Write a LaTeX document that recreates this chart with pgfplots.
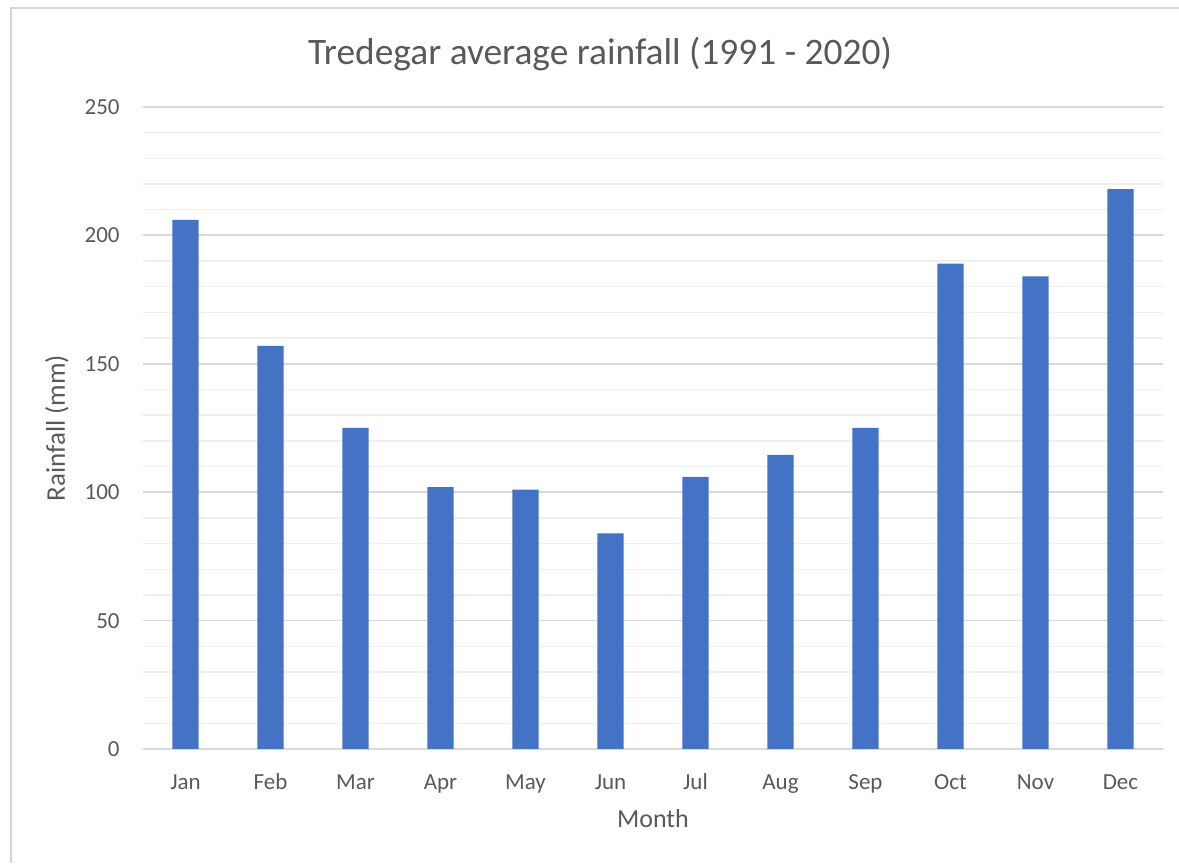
\documentclass[border=0pt]{standalone}
\usepackage{fontspec}
\setmainfont{Carlito}
\usepackage{pgfplots}
\pgfplotsset{compat=1.18}
\definecolor{barblue}{HTML}{4472C4}
\definecolor{txt}{HTML}{595959}
\definecolor{gridc}{HTML}{D9D9D9}
\definecolor{minorc}{HTML}{EFEFEF}
\definecolor{framec}{HTML}{D4D4D4}
\begin{document}
\begin{tikzpicture}
\path[use as bounding box] (0,0) rectangle (589.5pt,431.5pt);
\draw[color=framec, line width=1pt] (5.5pt,0pt) -- (5.5pt,427.5pt) -- (589.5pt,427.5pt);
\begin{axis}[
  at={(71.5pt,57pt)}, anchor=south west,
  scale only axis, width=510pt, height=321pt,
  xmin=-0.5, xmax=11.5, ymin=0, ymax=250,
  xtick={0,1,2,3,4,5,6,7,8,9,10,11},
  xticklabels={Jan,Feb,Mar,Apr,May,Jun,Jul,Aug,Sep,Oct,Nov,Dec},
  ytick={0,50,100,150,200,250},
  minor ytick={10,20,30,40,60,70,80,90,110,120,130,140,160,170,180,190,210,220,230,240},
  ymajorgrids, yminorgrids,
  major grid style={draw=gridc, line width=0.9pt},
  minor grid style={draw=minorc, line width=0.7pt},
  axis line style={draw=none},
  tick style={draw=none},
  /pgf/number format/assume math mode=true,
  ticklabel style={font=\fontsize{11.5}{13}\selectfont, text=txt, inner sep=0pt},
  xticklabel style={anchor=base, yshift=-16pt},
  yticklabel style={anchor=base east, xshift=-11.5pt, yshift=-3.8pt},
  title={Tredegar average rainfall (1991 - 2020)},
  title style={at={(axis description cs:0.448,1.048)}, anchor=base, font=\fontsize{18.7}{22}\selectfont, text=txt, inner sep=0pt},
  xlabel={Month},
  xlabel style={at={(axis description cs:0.5,-0.123)}, anchor=base, font=\fontsize{13}{15}\selectfont, text=txt, inner sep=0pt},
  ylabel={Rainfall (mm)},
  ylabel style={at={(axis description cs:-0.0765,0.5)}, anchor=base, rotate=0, font=\fontsize{13.5}{15}\selectfont, text=txt, inner sep=0pt},
  ybar, bar width=0.31,
  clip=false,
]
\addplot[fill=barblue, draw=none] coordinates {
  (0,206) (1,157) (2,125) (3,102) (4,101) (5,84)
  (6,106) (7,114.5) (8,125) (9,189) (10,184) (11,218)
};
\end{axis}
\end{tikzpicture}
\end{document}
